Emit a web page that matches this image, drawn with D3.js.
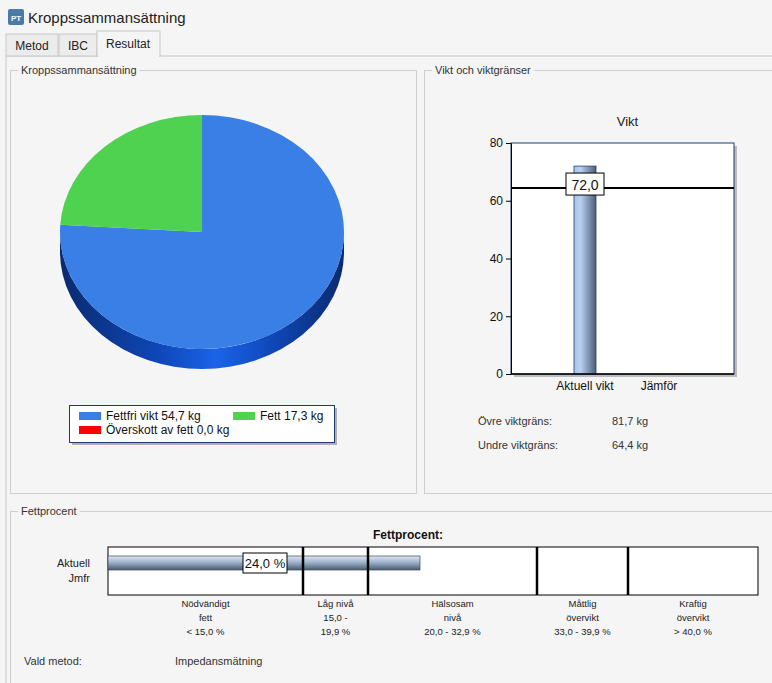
<!DOCTYPE html>
<html><head><meta charset="utf-8">
<script src="https://cdn.jsdelivr.net/npm/d3@7"></script>
<style>body{margin:0;background:#f5f5f5;}svg{display:block;font-family:"Liberation Sans",Arial,sans-serif;}</style>
</head><body><svg id="c" width="772" height="683"></svg>
<script>
const pieLabels=["Fettfri vikt","Fett","Överskott av fett"];
const pieValues=[54.7,17.3,0.0];
const pieColors=["#3a7fe6","#4fd24f","#ff0000"];
const barCats=["Aktuell vikt","Jämför"];
const barValues=[72.0,null];
const upperLimit=81.7, lowerLimit=64.4;
const yTicks=[0,20,40,60,80];
const fatValue=24.0;
const fatBounds=[15,20,33,40];
const fatCats=[["Nödvändigt","fett","< 15,0 %"],["Låg nivå","15,0 -","19,9 %"],["Hälsosam","nivå","20,0 - 32,9 %"],["Måttlig","övervikt","33,0 - 39,9 %"],["Kraftig","övervikt","> 40,0 %"]];
const fmt=v=>v.toFixed(1).replace(".",",");

const svg=d3.select("#c");
const defs=svg.append("defs");
svg.append("rect").attr("x",8).attr("y",9).attr("width",16).attr("height",16).attr("rx",2).attr("fill","#4a7ba8");
svg.append("text").attr("x",16).attr("y",21).attr("text-anchor","middle").attr("font-size",8).attr("font-weight","bold").attr("fill","#fff").text("PT");
svg.append("text").attr("x",28).attr("y",23).attr("font-size",15).attr("fill","#222").text("Kroppssammansättning");
svg.append("rect").attr("x",6).attr("y",56).attr("width",780).attr("height",640).attr("fill","#f5f5f5").attr("stroke","#c8c8c8");
[["Metod",6,58],["IBC",59,97]].forEach(([t,a,b])=>{
 svg.append("rect").attr("x",a).attr("y",34).attr("width",b-a).attr("height",22).attr("fill","#ececec").attr("stroke","#c8c8c8");
 svg.append("text").attr("x",(a+b)/2).attr("y",50).attr("text-anchor","middle").attr("font-size",12).attr("fill","#222").text(t);
});
svg.append("rect").attr("x",97).attr("y",31).attr("width",63).attr("height",25).attr("fill","#f5f5f5").attr("stroke","#c8c8c8");
svg.append("rect").attr("x",98).attr("y",55).attr("width",61).attr("height",3).attr("fill","#f5f5f5");
svg.append("text").attr("x",128).attr("y",48).attr("text-anchor","middle").attr("font-size",12).attr("fill","#222").text("Resultat");
function group(x,y,w,h,label){
 svg.append("rect").attr("x",x+.5).attr("y",y+.5).attr("width",w).attr("height",h).attr("fill","none").attr("stroke","#cfcfcf");
 const t=svg.append("text").attr("x",x+11).attr("y",y+4).attr("font-size",11).attr("fill","#333").text(label);
 const bb=t.node().getBBox();
 svg.insert("rect","text:last-of-type").attr("x",bb.x-3).attr("y",y-2).attr("width",bb.width+6).attr("height",5).attr("fill","#f5f5f5");
 t.raise();
}
group(10,70,406,423,"Kroppssammansättning");
group(424,70,360,423,"Vikt och viktgränser");
group(10,511,775,180,"Fettprocent");

// PIE
const cx=202,cy=232,rx=142,ry=117,depth=20;
const sg=defs.append("linearGradient").attr("id","side").attr("x1",0).attr("x2",1);
[[0,"#0a2a6e"],[0.35,"#0f47b8"],[0.55,"#1a63e8"],[0.75,"#0f47b8"],[1,"#0a2a6e"]].forEach(([o,c])=>sg.append("stop").attr("offset",o).attr("stop-color",c));
svg.append("path").attr("fill","url(#side)")
 .attr("d",`M${cx-rx},${cy} A${rx},${ry} 0 0 0 ${cx+rx},${cy} L${cx+rx},${cy+depth} A${rx},${ry} 0 0 1 ${cx-rx},${cy+depth} Z`);
const pie=d3.pie().sort(null).value(d=>d);
const arc=d3.arc().innerRadius(0).outerRadius(rx);
svg.append("g").attr("transform",`translate(${cx},${cy}) scale(1,${ry/rx})`)
 .selectAll("path").data(pie(pieValues)).join("path").attr("d",arc).attr("fill",(d,i)=>pieColors[i]);
svg.append("rect").attr("x",72).attr("y",408).attr("width",265).attr("height",37).attr("fill","#b0b0b0");
svg.append("rect").attr("x",69.5).attr("y",405.5).attr("width",265).attr("height",37).attr("fill","#fff").attr("stroke","#1f3c6e");
const lp=[[79,412],[233,412],[79,426]];
pieLabels.forEach((l,i)=>{
 svg.append("rect").attr("x",lp[i][0]).attr("y",lp[i][1]).attr("width",22).attr("height",8).attr("fill",pieColors[i]);
 svg.append("text").attr("x",lp[i][0]+27).attr("y",lp[i][1]+8).attr("font-size",12).attr("fill","#111").text(`${l} ${fmt(pieValues[i])} kg`);
});

// BAR CHART
const px0=511,px1=734,py0=143,py1=374;
svg.append("text").attr("x",(px0+px1)/2+5).attr("y",126).attr("text-anchor","middle").attr("font-size",13).attr("fill","#222").text("Vikt");
svg.append("rect").attr("x",px0+3).attr("y",py0+3).attr("width",px1-px0).attr("height",py1-py0).attr("fill","#bbb");
svg.append("rect").attr("x",px0).attr("y",py0).attr("width",px1-px0).attr("height",py1-py0).attr("fill","#fff").attr("stroke","#1f3c6e");
const y=d3.scaleLinear().domain([0,80]).range([py1,py0]);
const x=d3.scaleBand().domain(barCats).range([548,696]);
const bg=defs.append("linearGradient").attr("id","bar").attr("x1",0).attr("x2",1);
[[0,"#a8c4ec"],[0.3,"#b9d0f2"],[1,"#4b5d78"]].forEach(([o,c])=>bg.append("stop").attr("offset",o).attr("stop-color",c));
barCats.forEach((c,i)=>{ if(barValues[i]==null)return;
 const bx=x(c)+x.bandwidth()/2-11;
 svg.append("rect").attr("x",bx).attr("y",y(barValues[i])).attr("width",22).attr("height",y(0)-y(barValues[i])).attr("fill","url(#bar)").attr("stroke","#1f3c6e").attr("stroke-width",0.8);
});
const ya=svg.append("g").attr("transform",`translate(${px0},0)`).call(d3.axisLeft(y).tickValues(yTicks).tickSize(5).tickSizeOuter(0));
ya.select(".domain").attr("stroke","#000");
ya.selectAll("text").attr("font-size",12).attr("fill","#111").attr("font-family","Liberation Sans, Arial");
const xa=svg.append("g").attr("transform",`translate(0,${py1})`).call(d3.axisBottom(x).tickSize(0).tickPadding(7));
xa.select(".domain").attr("d",`M${px0},0H${px1}`).attr("stroke","#000").attr("stroke-width",1.5);
xa.selectAll("text").attr("font-size",12).attr("fill","#111").attr("font-family","Liberation Sans, Arial");
svg.append("line").attr("x1",px0).attr("x2",px1).attr("y1",y(lowerLimit)).attr("y2",y(lowerLimit)).attr("stroke","#000").attr("stroke-width",2);
{const bx=x(barCats[0])+x.bandwidth()/2;
 svg.append("rect").attr("x",bx-19).attr("y",y(lowerLimit)-15).attr("width",38).attr("height",22).attr("fill","#fff").attr("stroke","#000");
 svg.append("text").attr("x",bx).attr("y",y(lowerLimit)+2).attr("text-anchor","middle").attr("font-size",14).attr("fill","#111").text(fmt(barValues[0]));}
[["Övre viktgräns:",upperLimit,425],["Undre viktgräns:",lowerLimit,449]].forEach(([l,v,yy])=>{
 svg.append("text").attr("x",478).attr("y",yy).attr("font-size",11).attr("fill","#333").text(l);
 svg.append("text").attr("x",612).attr("y",yy).attr("font-size",11).attr("fill","#333").text(fmt(v)+" kg");
});

// FAT PERCENT
const fx=d3.scaleLinear().domain([0,50]).range([108,758]);
svg.append("text").attr("x",408).attr("y",539).attr("text-anchor","middle").attr("font-size",12).attr("font-weight","bold").attr("fill","#111").text("Fettprocent:");
svg.append("rect").attr("x",fx(0)).attr("y",547).attr("width",fx(50)-fx(0)).attr("height",48).attr("fill","#fff").attr("stroke","#000");
const fg=defs.append("linearGradient").attr("id","fb").attr("x1",0).attr("x2",0).attr("y1",0).attr("y2",1);
[[0,"#dfe7f2"],[0.45,"#9fb3cc"],[1,"#4a5a70"]].forEach(([o,c])=>fg.append("stop").attr("offset",o).attr("stop-color",c));
svg.append("rect").attr("x",fx(0)).attr("y",556).attr("width",fx(fatValue)-fx(0)).attr("height",14).attr("fill","url(#fb)").attr("stroke","#3a4a60").attr("stroke-width",0.7);
fatBounds.forEach(b=>svg.append("line").attr("x1",fx(b)).attr("x2",fx(b)).attr("y1",547).attr("y2",595).attr("stroke","#000").attr("stroke-width",2.5));
svg.append("rect").attr("x",fx(12)-21).attr("y",553).attr("width",44).attr("height",20).attr("fill","#fff").attr("stroke","#000");
svg.append("text").attr("x",fx(12)+1).attr("y",568).attr("text-anchor","middle").attr("font-size",13).attr("fill","#111").text(fmt(fatValue)+" %");
svg.append("text").attr("x",90).attr("y",567).attr("text-anchor","end").attr("font-size",11).attr("fill","#222").text("Aktuell");
svg.append("text").attr("x",90).attr("y",582).attr("text-anchor","end").attr("font-size",11).attr("fill","#222").text("Jmfr");
const edges=[0,...fatBounds,50];
fatCats.forEach((lines,i)=>{
 const mx=(fx(edges[i])+fx(edges[i+1]))/2;
 lines.forEach((t,j)=>svg.append("text").attr("x",mx).attr("y",607+j*14).attr("text-anchor","middle").attr("font-size",9.5).attr("fill","#222").text(t));
});
svg.append("text").attr("x",24).attr("y",665).attr("font-size",11).attr("fill","#333").text("Vald metod:");
svg.append("text").attr("x",175).attr("y",665).attr("font-size",11).attr("fill","#333").text("Impedansmätning");
</script></body></html>
